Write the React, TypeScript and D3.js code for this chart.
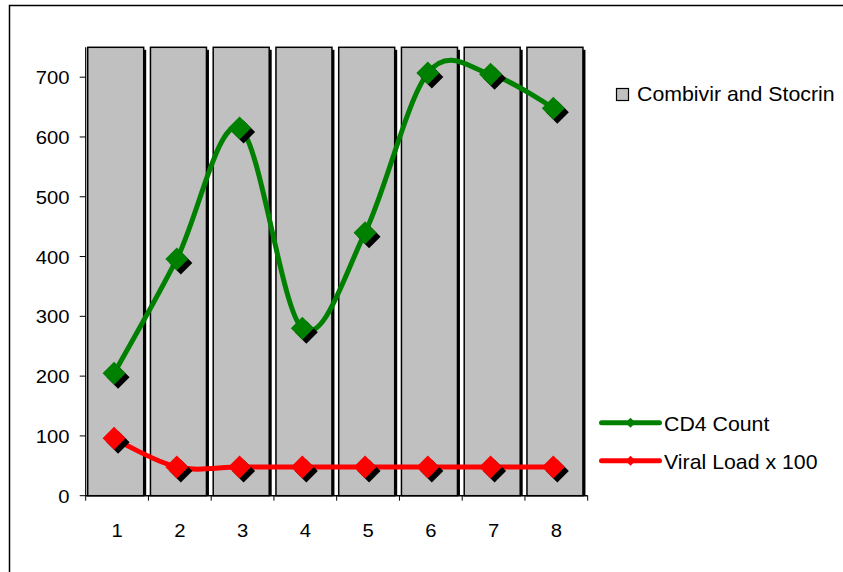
import React from "react";
import * as d3 from "d3";

const categories = ["1", "2", "3", "4", "5", "6", "7", "8"];
const barValues = [750, 750, 750, 750, 750, 750, 750, 750];
const cd4Values = [205, 396, 615, 280, 440, 707, 705, 648];
const viralValues = [96, 48, 48, 48, 48, 48, 48, 48];
const yTicks = [0, 100, 200, 300, 400, 500, 600, 700];
const barName = "Combivir and Stocrin";
const cd4Name = "CD4 Count";
const viralName = "Viral Load x 100";

const W = 843;
const H = 572;
const FONT = "'Liberation Sans', Arial, sans-serif";
const SX = 1.065;

function T(props: { x: number; y: number; anchor?: string; size: number; children: React.ReactNode }) {
  return (
    <text
      transform={`translate(${props.x},${props.y}) scale(${SX},1)`}
      textAnchor={props.anchor || "start"}
      fontFamily={FONT}
      fontSize={props.size}
      fill="#000"
    >
      {props.children}
    </text>
  );
}

export default function App() {
  const x0 = 85.7;
  const x1 = 587.7;
  const yTop = 47.3;
  const yBot = 495.7;

  const x = d3.scaleBand<string>().domain(categories).range([x0, x1]).padding(0);
  const y = d3.scaleLinear().domain([0, 750]).range([yBot, yTop]);
  const bw = x.bandwidth();
  const cx = (c: string) => (x(c) as number) + bw / 2 - 3;

  const line = d3
    .line<number>()
    .x((_, i) => cx(categories[i]))
    .y((d) => y(d))
    .curve(d3.curveCatmullRom.alpha(0));

  const diamond = (px: number, py: number, r: number) =>
    `M${px},${py - r}L${px + r},${py}L${px},${py + r}L${px - r},${py}Z`;

  const markers = (vals: number[], color: string, key: string) =>
    vals.map((v, i) => {
      const px = cx(categories[i]);
      const py = y(v);
      return (
        <g key={key + i}>
          <path d={diamond(px + 4, py + 4, 11.5)} fill="#000" />
          <path d={diamond(px, py, 11.5)} fill={color} />
        </g>
      );
    });

  return (
    <div style={{ position: "absolute", left: 0, top: 0 }}>
      <svg width={W} height={H} style={{ display: "block" }}>
        <rect x={0} y={0} width={W} height={H} fill="#fff" />
        <rect x={9.5} y={5.5} width={W + 20} height={H + 20} fill="none" stroke="#000" strokeWidth={1.5} />

        {/* bars */}
        {barValues.map((v, i) => {
          const bx = (x(categories[i]) as number) + 2;
          const by = y(v);
          const bh = yBot - by;
          return (
            <g key={"b" + i}>
              <rect x={bx + 2.5} y={by + 2.5} width={56} height={bh - 2.5} fill="#000" />
              <rect x={bx} y={by} width={56} height={bh} fill="#C0C0C0" stroke="#000" strokeWidth={1.5} />
            </g>
          );
        })}

        {/* y axis */}
        <line x1={x0} x2={x0} y1={yTop} y2={yBot} stroke="#000" strokeWidth={1.2} />
        {yTicks.map((t) => (
          <g key={"yt" + t}>
            <line x1={x0 - 6} x2={x0} y1={y(t)} y2={y(t)} stroke="#000" strokeWidth={1} />
            <T x={69.5} y={y(t) + 7} anchor="end" size={19}>
              {t}
            </T>
          </g>
        ))}

        {/* x axis */}
        <line x1={x0} x2={x1} y1={yBot} y2={yBot} stroke="#000" strokeWidth={1.5} />
        {categories.map((c) => (
          <line key={"xt" + c} x1={x(c) as number} x2={x(c) as number} y1={yBot} y2={yBot + 5} stroke="#000" strokeWidth={1} />
        ))}
        <line x1={x1} x2={x1} y1={yBot} y2={yBot + 5} stroke="#000" strokeWidth={1} />
        {categories.map((c) => (
          <T key={"xl" + c} x={(x(c) as number) + bw / 2} y={536.5} anchor="middle" size={19}>
            {c}
          </T>
        ))}

        {/* lines */}
        <path d={line(cd4Values) || ""} fill="none" stroke="#008000" strokeWidth={5} />
        <path d={line(viralValues) || ""} fill="none" stroke="#FF0000" strokeWidth={5} />
        {markers(cd4Values, "#008000", "g")}
        {markers(viralValues, "#FF0000", "r")}

        {/* legend */}
        <rect x={616.5} y={88.5} width={12} height={12} fill="#C0C0C0" stroke="#000" strokeWidth={1.2} />
        <T x={637} y={101} size={20}>
          {barName}
        </T>

        <line x1={601.5} x2={659.5} y1={422.7} y2={422.7} stroke="#008000" strokeWidth={5} strokeLinecap="round" />
        <path d={diamond(630.5, 422.7, 5)} fill="#008000" />
        <T x={664} y={430.5} size={20}>
          {cd4Name}
        </T>

        <line x1={601.5} x2={659.5} y1={460.7} y2={460.7} stroke="#FF0000" strokeWidth={5} strokeLinecap="round" />
        <path d={diamond(630.5, 460.7, 5)} fill="#FF0000" />
        <T x={664} y={468.5} size={20}>
          {viralName}
        </T>
      </svg>
    </div>
  );
}
